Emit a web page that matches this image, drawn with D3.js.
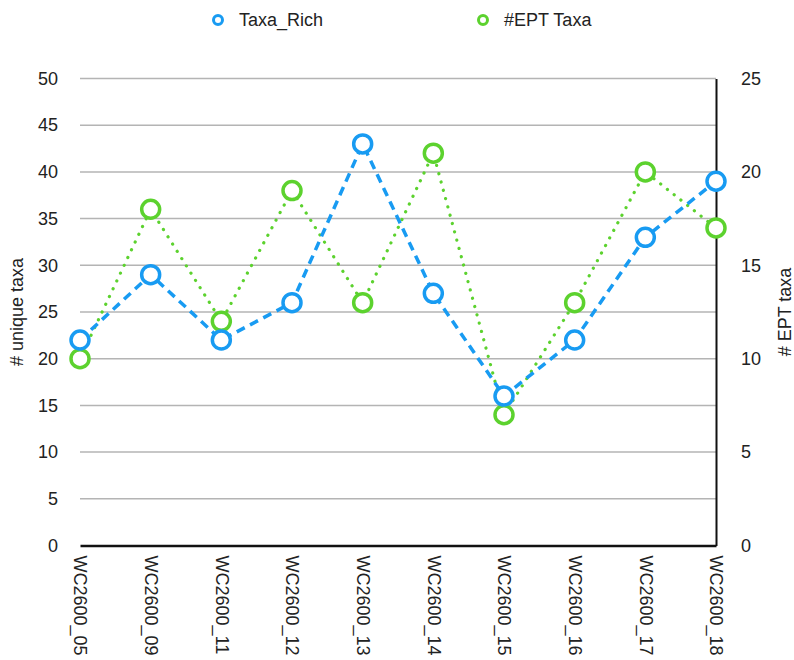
<!DOCTYPE html>
<html>
<head>
<meta charset="utf-8">
<script src="https://cdn.jsdelivr.net/npm/d3@7"></script>
<style>
  body { margin: 0; background: #fff; }
  text { font-family: "Liberation Sans", Arial, Helvetica, sans-serif; fill: #222; }
</style>
</head>
<body>
<svg id="chart" width="794" height="660"></svg>
<script>
let sites = ["WC2600_05", "WC2600_09", "WC2600_11", "WC2600_12", "WC2600_13",
             "WC2600_14", "WC2600_15", "WC2600_16", "WC2600_17", "WC2600_18"];
let taxaRich = [22, 29, 22, 26, 43, 27, 16, 22, 33, 39];
let eptTaxa = [10, 18, 12, 19, 13, 21, 7, 13, 20, 17];
let leftTicks = [0, 5, 10, 15, 20, 25, 30, 35, 40, 45, 50];
let rightTicks = [0, 5, 10, 15, 20, 25];

let blue = "#189bf2";
let green = "#5cd22e";
let fontSize = 18;

let svg = d3.select("#chart");
let plotLeft = 80, plotRight = 716, plotTop = 78.5, plotBottom = 545.5;

let x = d3.scalePoint().domain(sites).range([plotLeft, plotRight]);
let yL = d3.scaleLinear().domain([0, 50]).range([plotBottom, plotTop]);
let yR = d3.scaleLinear().domain([0, 25]).range([plotBottom, plotTop]);

// gridlines
svg.append("g")
  .selectAll("line")
  .data(leftTicks.filter(d => d > 0))
  .join("line")
  .attr("x1", plotLeft).attr("x2", plotRight)
  .attr("y1", d => yL(d)).attr("y2", d => yL(d))
  .attr("stroke", "#b4b4b4").attr("stroke-width", 1.5);

// left axis labels
let leftAxis = svg.append("g")
  .attr("transform", `translate(${plotLeft},0)`)
  .call(d3.axisLeft(yL).tickValues(leftTicks).tickSize(0).tickPadding(22));
leftAxis.select(".domain").remove();
leftAxis.selectAll("text").attr("font-size", fontSize).attr("fill", "#222");

// right axis
let rightAxis = svg.append("g")
  .attr("transform", `translate(${plotRight},0)`)
  .call(d3.axisRight(yR).tickValues(rightTicks).tickSize(0).tickPadding(25));
rightAxis.select(".domain").attr("stroke", "#111").attr("stroke-width", 2);
rightAxis.selectAll("text").attr("font-size", fontSize).attr("fill", "#222");

// bottom axis
let bottomAxis = svg.append("g")
  .attr("transform", `translate(0,${plotBottom})`)
  .call(d3.axisBottom(x).tickSize(0));
bottomAxis.select(".domain").attr("stroke", "#111").attr("stroke-width", 2.5);
bottomAxis.selectAll("text")
  .attr("font-size", fontSize).attr("fill", "#222")
  .attr("transform", "rotate(90)")
  .attr("text-anchor", "start")
  .attr("x", 10).attr("y", 0).attr("dy", "0.35em");

// axis titles
svg.append("text")
  .attr("transform", `translate(23,${(plotTop + plotBottom) / 2}) rotate(-90)`)
  .attr("text-anchor", "middle")
  .attr("font-size", fontSize)
  .text("# unique taxa");
svg.append("text")
  .attr("transform", `translate(791,${(plotTop + plotBottom) / 2}) rotate(-90)`)
  .attr("text-anchor", "middle")
  .attr("font-size", fontSize)
  .text("# EPT taxa");

// lines
let lineL = d3.line().x((d, i) => x(sites[i])).y(d => yL(d));
let lineR = d3.line().x((d, i) => x(sites[i])).y(d => yR(d));

svg.append("path")
  .datum(eptTaxa)
  .attr("d", lineR)
  .attr("fill", "none").attr("stroke", green)
  .attr("stroke-width", 3.2).attr("stroke-linecap", "round")
  .attr("stroke-dasharray", "0.1 8.5");

svg.append("path")
  .datum(taxaRich)
  .attr("d", lineL)
  .attr("fill", "none").attr("stroke", blue)
  .attr("stroke-width", 3.5)
  .attr("stroke-dasharray", "9 6");

// markers
svg.append("g")
  .selectAll("circle")
  .data(eptTaxa)
  .join("circle")
  .attr("cx", (d, i) => x(sites[i]))
  .attr("cy", d => yR(d))
  .attr("r", 9)
  .attr("fill", "#fff").attr("stroke", green).attr("stroke-width", 3.5);

svg.append("g")
  .selectAll("circle")
  .data(taxaRich)
  .join("circle")
  .attr("cx", (d, i) => x(sites[i]))
  .attr("cy", d => yL(d))
  .attr("r", 9)
  .attr("fill", "#fff").attr("stroke", blue).attr("stroke-width", 3.5);

// legend
let legend = [
  { name: "Taxa_Rich", color: blue, x: 218 },
  { name: "#EPT Taxa", color: green, x: 483 }
];
let lg = svg.append("g").selectAll("g").data(legend).join("g")
  .attr("transform", d => `translate(${d.x},20)`);
lg.append("circle").attr("r", 4.5)
  .attr("fill", "#fff").attr("stroke", d => d.color).attr("stroke-width", 3);
lg.append("text").attr("x", 21).attr("dy", "0.35em")
  .attr("font-size", fontSize).text(d => d.name);
</script>
</body>
</html>
